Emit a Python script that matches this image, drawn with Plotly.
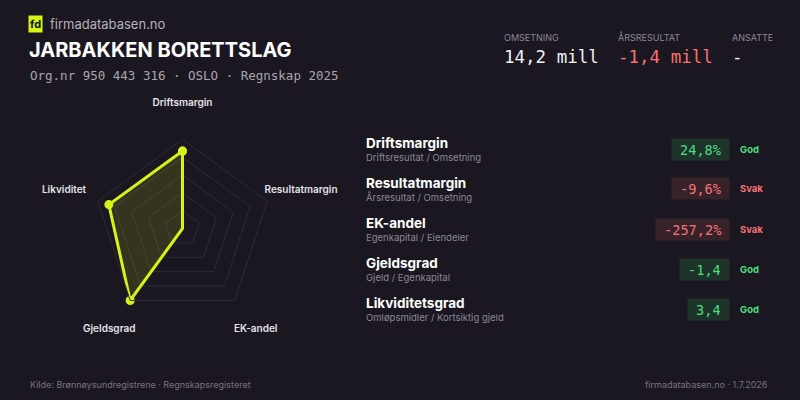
import plotly.graph_objects as go

# radar data
axes = ["Driftsmargin", "Resultatmargin", "EK-andel", "Gjeldsgrad", "Likviditet"]
scores = [87, 0, 0, 100, 87]

# key figures in the header
kpi_labels = ["OMSETNING", "ÅRSRESULTAT", "ANSATTE"]
kpi_values = ["14,2 mill", "-1,4 mill", "-"]
kpi_negative = [False, True, False]

# ratio table
metric_names = ["Driftsmargin", "Resultatmargin", "EK-andel", "Gjeldsgrad", "Likviditetsgrad"]
metric_formulas = ["Driftsresultat / Omsetning", "Årsresultat / Omsetning", "Egenkapital / Eiendeler",
                   "Gjeld / Egenkapital", "Omløpsmidler / Kortsiktig gjeld"]
metric_values = ["24,8%", "-9,6%", "-257,2%", "-1,4", "3,4"]
metric_status = ["God", "Svak", "Svak", "God", "God"]

BG = "#1b1721"
LIME = "#d4f316"
GRID = "#2e2a35"
GREEN = "#4ade80"
RED = "#f87171"
SANS = "Inter"
MONO = "DejaVu Sans Mono"
W, H = 800, 400


def px(x, y):
    return x / W, 1 - y / H


fig = go.Figure()

fig.add_trace(go.Scatterpolar(
    r=scores + scores[:1], theta=axes + axes[:1],
    mode="lines+markers", fill="toself",
    fillcolor="rgba(212,243,22,0.14)",
    line=dict(color=LIME, width=3),
    marker=dict(color=LIME, size=9),
    hoverinfo="skip", showlegend=False,
))
# axis labels: a second, invisible polar with a wider range holds them
fig.add_trace(go.Scatterpolar(
    r=[140] * len(axes), theta=axes, mode="text", text=axes, subplot="polar2",
    textfont=dict(family=SANS, size=10, color="#e4e2e8", weight=600),
    cliponaxis=False, hoverinfo="skip", showlegend=False,
))

cx, cy, R = 182.5, 228.5, 89


def domain(radius):
    return dict(x=[(cx - radius) / W, (cx + radius) / W],
                y=[1 - (cy + radius) / H, 1 - (cy - radius) / H])


fig.update_layout(
    width=W, height=H, margin=dict(l=0, r=0, t=0, b=0),
    paper_bgcolor=BG, plot_bgcolor=BG,
    polar=dict(
        domain=domain(R),
        bgcolor="rgba(0,0,0,0)", gridshape="linear",
        radialaxis=dict(range=[0, 100], tickvals=[20, 40, 60, 80, 100], showticklabels=False,
                        ticks="", showline=False, gridcolor=GRID, gridwidth=1),
        angularaxis=dict(rotation=90, direction="clockwise", showticklabels=False, ticks="",
                         showgrid=False, linecolor=GRID, linewidth=1),
    ),
    polar2=dict(
        domain=domain(R * 1.5),
        bgcolor="rgba(0,0,0,0)", gridshape="linear",
        radialaxis=dict(range=[0, 150], visible=False, showgrid=False),
        angularaxis=dict(rotation=90, direction="clockwise", visible=False, showgrid=False,
                         categoryarray=axes, categoryorder="array"),
    ),
)

ann = []


def text(x, y, s, size, color, family=SANS, anchor="left", weight=400, **kw):
    ax, ay = px(x, y)
    ann.append(dict(x=ax, y=ay, xref="paper", yref="paper", text=s, showarrow=False,
                    xanchor=anchor, yanchor="middle",
                    font=dict(family=family, size=size, color=color, weight=weight), **kw))


# brand + title
text(28, 24, "fd", 11, "#111", weight=700, bgcolor=LIME, borderpad=1)
text(48, 24, "firmadatabasen.no", 13, "#b5b1bb")
text(27, 50, "JARBAKKEN BORETTSLAG", 20, "#ffffff", weight=700)
text(28, 75, "Org.nr 950 443 316 · OSLO · Regnskap 2025", 12.5, "#a9a5af", family=MONO)

# header KPIs
for i, (lab, val, neg) in enumerate(zip(kpi_labels, kpi_values, kpi_negative)):
    x = 502 + i * 114
    text(x, 37, lab, 9, "#8b8794")
    text(x, 57, val, 17.5, RED if neg else "#f2f0f4", family=MONO)

# ratio rows
for i in range(len(metric_names)):
    y = 143 + i * 40
    good = metric_status[i] == "God"
    text(364, y, metric_names[i], 13.5, "#ffffff", weight=700)
    text(364, y + 14, metric_formulas[i], 9.5, "#8b8794")
    box_w = len(metric_values[i]) * 8.2 + 16
    text(730, y + 6, metric_values[i], 13.6, GREEN if good else RED, family=MONO, anchor="right",
         bgcolor="#1e3329" if good else "#37222a", borderpad=0, width=box_w, height=21,
         align="center", valign="middle")
    text(738, y + 6, metric_status[i], 9.5, GREEN if good else RED, weight=700)

# footer
text(28, 384, "Kilde: Brønnøysundregistrene · Regnskapsregisteret", 9, "#77737e")
text(770, 384, "firmadatabasen.no · 1.7.2026", 9, "#77737e", anchor="right")

fig.update_layout(annotations=ann)
fig.write_html("out.html", config={"displayModeBar": False},
               post_script="document.body.style.margin='0';")
